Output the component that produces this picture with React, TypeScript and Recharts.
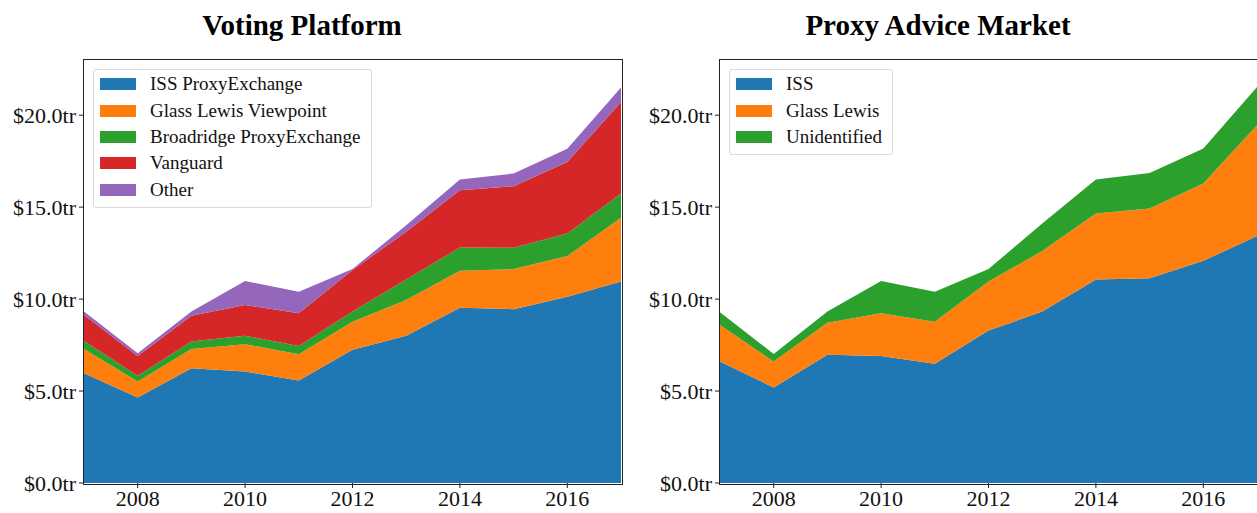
import { AreaChart, Area, XAxis, YAxis } from "recharts";

const YEARS = [2007, 2008, 2009, 2010, 2011, 2012, 2013, 2014, 2015, 2016, 2017];
const X_TICKS = [2008, 2010, 2012, 2014, 2016];
const Y_TICKS = [0, 5, 10, 15, 20];

// Voting platform ($tr)
const ISS_PROXYEXCHANGE = [5.97, 4.65, 6.24, 6.06, 5.57, 7.24, 8.01, 9.53, 9.45, 10.13, 10.95];
const GL_VIEWPOINT = [1.32, 0.87, 1.05, 1.49, 1.43, 1.53, 1.94, 2.01, 2.18, 2.21, 3.47];
const BROADRIDGE = [0.43, 0.31, 0.4, 0.46, 0.45, 0.55, 1.12, 1.27, 1.16, 1.23, 1.32];
const VANGUARD = [1.41, 1.08, 1.41, 1.67, 1.78, 2.26, 2.59, 3.11, 3.35, 3.89, 4.98];
const OTHER = [0.19, 0.15, 0.22, 1.3, 1.17, 0.05, 0.36, 0.58, 0.69, 0.71, 0.78];

// Proxy advice market ($tr)
const ISS = [6.6, 5.19, 6.97, 6.91, 6.48, 8.29, 9.32, 11.07, 11.13, 12.08, 13.43];
const GLASS_LEWIS = [1.99, 1.41, 1.75, 2.32, 2.29, 2.66, 3.29, 3.59, 3.8, 4.21, 6.02];
const UNIDENTIFIED = [0.69, 0.42, 0.6, 1.75, 1.63, 0.68, 1.5, 1.84, 1.93, 1.9, 2.08];

const COLORS = ["#1f77b4", "#ff7f0e", "#2ca02c", "#d62728", "#9467bd"];
const FONT = "'Liberation Serif', 'DejaVu Serif', serif";

type Series = { key: string; name: string; values: number[] };

const votingSeries: Series[] = [
  { key: "iss", name: "ISS ProxyExchange", values: ISS_PROXYEXCHANGE },
  { key: "gl", name: "Glass Lewis Viewpoint", values: GL_VIEWPOINT },
  { key: "br", name: "Broadridge ProxyExchange", values: BROADRIDGE },
  { key: "vg", name: "Vanguard", values: VANGUARD },
  { key: "other", name: "Other", values: OTHER },
];

const adviceSeries: Series[] = [
  { key: "iss", name: "ISS", values: ISS },
  { key: "gl", name: "Glass Lewis", values: GLASS_LEWIS },
  { key: "unid", name: "Unidentified", values: UNIDENTIFIED },
];

function buildRows(series: Series[]) {
  return YEARS.map((year, i) => {
    const row: Record<string, number> = { year };
    series.forEach((s) => (row[s.key] = s.values[i]));
    return row;
  });
}

const PLOT_LEFT = 84;
const PLOT_TOP = 60;
const PLOT_BOTTOM = 483;

type PanelProps = {
  title: string;
  titleCenter: number;
  series: Series[];
  left: number;
  width: number;
  marginRight: number;
};

function Panel({ title, titleCenter, series, left, width, marginRight }: PanelProps) {
  const data = buildRows(series);
  const plotWidth = width - PLOT_LEFT - marginRight;
  return (
    <div style={{ position: "absolute", left, top: 0, width, height: 513 }}>
      <div
        style={{
          position: "absolute",
          left: titleCenter - left - 200,
          width: 400,
          top: 9,
          textAlign: "center",
          fontFamily: FONT,
          fontWeight: "bold",
          fontSize: 29,
          color: "#000",
        }}
      >
        {title}
      </div>
      <AreaChart
        width={width}
        height={513}
        data={data}
        margin={{ top: PLOT_TOP, right: marginRight, bottom: 0, left: 0 }}
      >
        <XAxis
          dataKey="year"
          type="number"
          domain={[2007, 2017]}
          ticks={X_TICKS}
          height={513 - PLOT_BOTTOM}
          axisLine={false}
          tickSize={5}
          tickLine={{ stroke: "#222" }}
          tick={{ fontSize: 22, fill: "#111", fontFamily: FONT }}
          tickMargin={2}
        />
        <YAxis
          type="number"
          domain={[0, 23]}
          ticks={Y_TICKS}
          width={PLOT_LEFT}
          axisLine={false}
          tickSize={5}
          tickLine={{ stroke: "#222" }}
          tick={{ fontSize: 22, fill: "#111", fontFamily: FONT }}
          tickMargin={3}
          tickFormatter={(v: number) => `$${v.toFixed(1)}tr`}
        />
        {series.map((s, i) => (
          <Area
            key={s.key}
            type="linear"
            dataKey={s.key}
            name={s.name}
            stackId="1"
            stroke="none"
            fill={COLORS[i]}
            fillOpacity={1}
            isAnimationActive={false}
          />
        ))}
      </AreaChart>
      <div
        style={{
          position: "absolute",
          left: PLOT_LEFT - 1,
          top: PLOT_TOP - 1,
          width: plotWidth + 1,
          height: PLOT_BOTTOM - PLOT_TOP + 1,
          border: "1.2px solid #222",
          pointerEvents: "none",
        }}
      />
      <div
        style={{
          position: "absolute",
          left: PLOT_LEFT + 9,
          top: 69,
          border: "1px solid #d9d9d9",
          borderRadius: 3,
          background: "rgba(255,255,255,0.8)",
          padding: "1px 10px 4px 6px",
          fontFamily: FONT,
          fontSize: 19,
          color: "#111",
        }}
      >
        {series.map((s, i) => (
          <div key={s.key} style={{ display: "flex", alignItems: "center", height: 26.4 }}>
            <span
              style={{
                display: "inline-block",
                width: 36,
                height: 12,
                background: COLORS[i],
                marginRight: 14,
              }}
            />
            <span>{s.name}</span>
          </div>
        ))}
      </div>
    </div>
  );
}

export default function App() {
  return (
    <div
      style={{
        position: "absolute",
        left: 0,
        top: 0,
        width: 1257,
        height: 513,
        background: "#fff",
        overflow: "hidden",
      }}
    >
      <Panel
        title="Voting Platform"
        titleCenter={302}
        series={votingSeries}
        left={0}
        width={630}
        marginRight={9}
      />
      <Panel
        title="Proxy Advice Market"
        titleCenter={938}
        series={adviceSeries}
        left={636}
        width={621}
        marginRight={0}
      />
    </div>
  );
}
